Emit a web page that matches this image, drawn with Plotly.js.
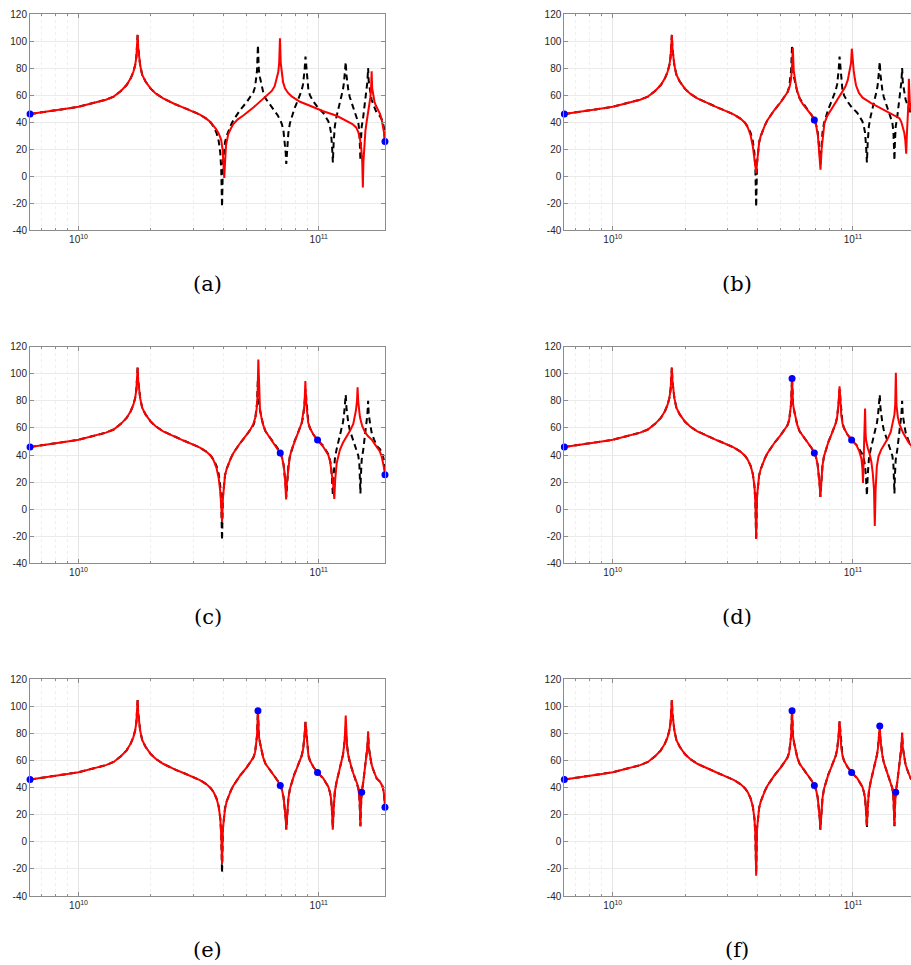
<!DOCTYPE html>
<html><head><meta charset="utf-8">
<script src="https://cdn.plot.ly/plotly-3.0.1.min.js"></script>
<style>html,body{margin:0;padding:0;overflow:hidden;background:#fff}#chart{width:920px;height:965px}</style>
</head><body><div id="chart"></div>
<script>
// frequency values are in units of 1e9 (rad/s), magnitudes in dB
const UNIT = 1e9;

// low-frequency part shared by every curve
const lowSeg = [[6.283,45.9],[7,47],[8,48.6],[9,50],[10,51.3],[11,53],[12,54.6],[13,56.5],[14,58.8],[15,63],[15.85,67.4],[16.5,72.5],[16.9,77],[17.2,82],[17.4,88],[17.53,95],[17.62,104.5],[17.71,95],[17.85,88],[18.05,82],[18.4,75],[19,70],[20,64.5],[21,61],[22.5,57.5],[25,53.5],[27.5,50.5],[30,47.7],[32,45.5],[34,42.5]];

// reference (true) response, black dashed
const trueTail = [[35.5,39.5],[36.5,36.5],[37.5,32],[38.3,26],[38.9,17],[39.25,5],[39.55,-23],[39.9,10],[40.3,19],[40.7,25],[41.3,29.5],[42,33],[43,37.5],[44.06,41.3],[45.5,45],[47,48.7],[50.1,54.8],[52,58.5],[53.4,62],[54.3,66],[54.8,71],[55.3,78],[55.8,97],[56.3,78],[56.9,73],[57.7,67],[58.7,62],[60,57.5],[61.6,54.8],[63,52],[64.7,49.9],[66,47.5],[67.4,45],[69.1,41.4],[70.3,38],[71.3,33],[72.2,25],[72.8,17],[73.2,9],[73.8,22],[74.7,32],[75.8,39],[77.1,44],[79,49.5],[80.9,54],[82.8,58.5],[84.8,63.3],[86,68],[86.7,73],[87.3,79],[88,88.5],[88.7,79],[89.5,69],[90.5,63.5],[91.9,59.7],[94.8,55.3],[98.8,51],[101.5,49],[104.4,46.7],[107,43.5],[109.5,40.6],[111.2,36.5],[112.4,32],[113.5,22],[114.4,10],[115.3,25],[116.6,37],[118.5,44],[120.4,49],[122.5,54],[124.4,59],[126,64],[127.2,69],[128.3,75],[129.4,84.5],[130.3,75],[131.2,68],[132.6,64],[134.5,58.5],[137,54],[141.3,47],[144,43.5],[146,39.5],[147.5,33],[148.4,24],[149,11.5],[149.6,24],[150.8,36.5],[153.1,44],[155,52],[156.7,59],[158.3,65],[159.3,70],[160.4,80],[161.3,70],[163.3,63.8],[165.9,56.5],[169.7,51.6],[174.1,46.7],[179.7,44.3],[184.4,40.6],[186.5,36],[187.7,31],[188.5,25.5]];

// reduced-model responses, red
const redTailA = [[35.5,39.8],[36.3,37.5],[37.3,35],[38.3,31.5],[39.2,27],[39.8,19],[40.15,8],[40.4,-1.5],[40.65,8],[41.1,23],[41.6,27.5],[42,31],[43,35],[44.06,38.5],[46,42],[48.5,44.8],[53.4,50.7],[58.7,57],[63.7,63],[65.5,66.5],[66.8,71.5],[67.8,77],[68.4,84],[68.9,102],[69.4,84],[70,76],[71,69.5],[72.3,65],[74.5,61.5],[77.1,59],[83.5,55],[91.9,52],[104.4,48],[118.7,44.6],[130.6,41],[138,38.5],[143,36],[146,32.5],[148.5,27],[150.3,20],[151.6,10],[152.5,-8.5],[153.3,10],[154.5,25],[156.2,33],[158.1,40],[160.5,46.5],[162.2,52],[163.8,58],[165,65],[165.9,77.5],[166.7,65],[168.5,59],[170.5,55],[172.9,52],[176,49],[179.7,46],[182.5,42],[184.4,38.5],[186.5,33],[188.5,25.5]];

const redTailB = [[35.5,39.5],[36.5,36],[37.5,30],[38.3,22],[38.9,13],[39.3,6],[39.6,2],[39.9,10],[40.3,19],[40.7,25],[41.3,29.5],[42,33],[43,37.5],[44.06,41.3],[45.5,45],[47,48.7],[50.1,54.8],[52,58.5],[53.4,62],[54.5,66],[55.2,71],[55.7,78],[56.2,95],[56.7,78],[57.3,72],[58.1,66],[59.1,61],[60.5,56],[62,53],[64,50],[66,47],[67.5,44.8],[69.1,41.4],[70.4,37],[71.5,30],[72.4,20],[73.3,4.7],[74.1,20],[75,31],[76.1,39],[78.2,44.5],[81.2,49],[85.1,54.5],[89.2,60],[93,66],[95.2,71],[97.2,78],[98.3,84],[99,94.3],[99.7,84],[100.8,78],[101.9,72],[103.1,67],[106,61.5],[109.8,58],[119.1,54],[131.1,50],[144.3,46.4],[152.2,44],[156.2,42.8],[159.2,40],[161.4,36.6],[163.7,32],[165.2,27],[166.8,16.5],[167.8,30],[169.4,41.5],[170.4,55],[171.1,72],[171.9,60],[172.8,53.5],[173.8,51],[176.7,46.4],[181.5,43],[185.5,37],[188.5,25.5]];

const redTailC = [[35.5,39.5],[36.5,36],[37.5,30.5],[38.3,23],[38.9,13],[39.25,2],[39.55,-9.5],[39.9,8],[40.3,19],[40.7,25],[41.3,29.5],[42,33],[43,37.5],[44.06,41.3],[45.5,45],[47,48.7],[50.1,55],[52,59],[53.4,63],[54.5,68],[55.1,74],[55.6,84],[56,110.5],[56.4,84],[56.9,74],[57.7,67.5],[58.7,62],[60,57.5],[61.6,54.5],[63,52],[64.7,49.5],[66,47.2],[67.4,44.8],[69.1,41.4],[70.3,38],[71.3,33],[72.2,25],[72.7,17],[73.1,7.1],[73.6,19],[74.5,30],[75.6,38],[77.1,44],[79,49.5],[80.9,54],[82.8,58.5],[84.8,63.5],[86,68.5],[86.7,74],[87.3,80],[87.9,94.6],[88.5,80],[89.3,70],[90.3,64],[91.9,59.7],[94.8,55.3],[98.8,51],[101.5,48.8],[104.4,46],[107,43],[109.5,40],[111.5,35],[113.1,28],[114.8,18],[116,7.5],[117,22],[118.7,34],[120.5,40],[122.4,43.8],[126,49],[130.6,53.5],[135,58],[139.1,63],[141.3,68],[142.7,73],[144.2,80],[145,90],[145.8,80],[147,72],[148.3,68],[151.5,61.5],[155.6,57],[160,54],[166.7,51],[174.1,46],[179,43],[182.6,39],[185.5,34],[187.5,29],[188.5,25.4]];

const redTailD = [[35.5,39.5],[36.5,36.5],[37.5,32],[38.3,26],[38.9,17],[39.25,5],[39.55,-22],[39.9,10],[40.3,19],[40.7,25],[41.3,29.5],[42,33],[43,37.5],[44.06,41.3],[45.5,45],[47,48.7],[50.1,54.8],[52,58.5],[53.4,62],[54.3,66],[54.8,71],[55.3,78],[55.8,96.5],[56.3,78],[56.9,73],[57.7,67],[58.7,62],[60,57.5],[61.6,54.8],[63,52],[64.7,49.9],[66,47.5],[67.4,45],[69.1,41.4],[70.3,38],[71.3,33],[72.2,25],[72.8,17],[73.2,9],[73.8,22],[74.7,32],[75.8,39],[77.1,44],[79,49.5],[80.9,54],[82.8,58.5],[84.8,63.3],[86,68],[86.7,73],[87.3,80],[88,90.7],[88.7,80],[89.5,69],[90.5,63.5],[91.9,59.7],[94.8,55.3],[98.8,51],[101.5,49],[103.5,47.4],[106.5,42.5],[108.6,37],[109.6,30],[110.2,19.3],[110.9,35],[111.8,55],[112.4,74.3],[113,55],[113.5,51],[115.4,45],[117.2,41.3],[119.4,35],[121,26.7],[122.4,15],[123.4,-12.5],[124.4,15],[125.8,31.5],[127.9,39],[131.1,43.8],[135.3,48],[139.9,52.3],[143.8,57],[146.8,63.3],[149,70],[150.1,77],[151,100.7],[151.9,77],[153.9,68],[156.2,63],[158.9,59.7],[162.2,56],[166.8,52.3],[171.1,49],[176.7,46.2],[181.5,43],[185.8,36],[188.5,25.5]];

const redTailE = [[35.5,39.5],[36.5,36.5],[37.5,32],[38.3,26],[38.9,17],[39.25,5],[39.55,-16.5],[39.9,10],[40.3,19],[40.7,24],[41.3,29.5],[42,33],[43,37.5],[44.06,41.3],[45.5,45],[47,48.7],[50.1,54.8],[52,58.5],[53.4,62],[54.3,66],[54.8,71],[55.3,78],[55.8,96.5],[56.3,78],[56.9,73],[57.7,67],[58.7,62],[60,57.5],[61.6,54.8],[63,52],[64.7,49.9],[66,47.5],[67.4,45],[69.1,41.4],[70.3,38],[71.3,33],[72.2,25],[72.8,17],[73.2,9],[73.8,22],[74.7,32],[75.8,39],[77.1,44],[79,49.5],[80.9,54],[82.8,58.5],[84.8,63.3],[86,68],[86.7,73],[87.3,79],[88,88.3],[88.7,79],[89.5,69],[90.5,63.5],[91.9,59.7],[94.8,55.3],[98.8,51],[101.5,49],[104.4,46.7],[107,43.5],[109.5,40.6],[111.2,36.5],[112.4,32],[113.5,22],[114.3,8.8],[115.3,25],[116.6,37],[118.5,44],[120.4,49],[122.5,54],[124.4,59],[126,64],[127.2,70],[128.3,77],[129.4,93],[130.3,77],[131.2,69],[132.6,64],[134.5,58.5],[137,54],[141.3,47],[144,43.5],[146,39.5],[147.5,33],[148.4,24],[149,11.5],[149.6,24],[150.8,36.5],[153.1,44],[155,52],[156.7,59],[158.3,65],[159.3,70],[160.4,81.4],[161.3,70],[163.3,63.8],[165.9,56.5],[169.7,51.6],[174.1,46.7],[179.7,44.3],[184.4,40.6],[186.5,36],[187.7,31],[188.5,25.5]];

const redTailF = [[35.5,39.5],[36.5,36.5],[37.5,32],[38.3,26],[38.9,17],[39.25,5],[39.55,-25],[39.9,10],[40.3,19],[40.7,25],[41.3,29.5],[42,33],[43,37.5],[44.06,41.3],[45.5,45],[47,48.7],[50.1,54.8],[52,58.5],[53.4,62],[54.3,66],[54.8,71],[55.3,78],[55.8,96.5],[56.3,78],[56.9,73],[57.7,67],[58.7,62],[60,57.5],[61.6,54.8],[63,52],[64.7,49.9],[66,47.5],[67.4,45],[69.1,41.4],[70.3,38],[71.3,33],[72.2,25],[72.8,17],[73.2,8.8],[73.8,22],[74.7,32],[75.8,39],[77.1,44],[79,49.5],[80.9,54],[82.8,58.5],[84.8,63.3],[86,68],[86.7,73],[87.3,79],[88,89],[88.7,79],[89.5,69],[90.5,63.5],[91.9,59.7],[94.8,55.3],[98.8,51],[101.5,49],[104.4,46.7],[107,43.5],[109.5,40.6],[111.2,36.5],[112.4,32],[113.5,22],[114.4,11.8],[115.3,25],[116.6,37],[118.5,44],[120.4,49],[122.5,54],[124.4,59],[126,64],[127.2,69],[128.3,75],[129.4,85.5],[130.3,75],[131.2,68],[132.6,64],[134.5,58.5],[137,54],[141.3,47],[144,43.5],[146,39.5],[147.5,33],[148.4,24],[149,11.8],[149.6,24],[150.8,36.5],[153.1,44],[155,52],[156.7,59],[158.3,65],[159.3,70],[160.4,80.6],[161.3,70],[163.3,63.8],[165.9,56.5],[169.7,51.6],[174.1,46.7],[179.7,44.3],[184.4,40.6],[186.5,36],[187.7,31],[188.5,25.5]];

// interpolation points, blue
const dotsA = [[6.283,45.9],[188.5,25.5]];
const dotsB = [[6.283,45.9],[69.1,41.4],[188.5,25.5]];
const dotsC = [[6.283,45.9],[69.1,41.4],[98.8,51],[188.5,25.5]];
const dotsD = [[6.283,45.9],[55.8,96.5],[69.1,41.4],[98.8,51],[188.5,25.5]];
const dotsE = [[6.283,45.9],[55.8,96.5],[69.1,41.4],[98.8,51],[150.8,36.5],[188.5,25.5]];
const dotsF = [[6.283,45.9],[55.8,96.5],[69.1,41.4],[98.8,51],[129.4,85.3],[150.8,36.5],[188.5,25.5]];

const panelLabels = ['(a)','(b)','(c)','(d)','(e)','(f)'];
const xTickVals = [1e10, 1e11];
const xTickText = ['10<sup>10</sup>','10<sup>11</sup>'];
const xMinorVals = [7e9,8e9,9e9,2e10,3e10,4e10,5e10,6e10,7e10,8e10,9e10];
const yTickVals = [-40,-20,0,20,40,60,80,100,120];
const yTickText = ['-40','-20','0','20','40','60','80','100','120'];
const xRange = [6.28e9, 1.8855e11];
const yRange = [-40, 120];

const redTails = [redTailA, redTailB, redTailC, redTailD, redTailE, redTailF];
const dotSets = [dotsA, dotsB, dotsC, dotsD, dotsE, dotsF];

// page geometry (px)
const W = 920, H = 965;
const colX = [[30, 385], [564.3, 919]];
const rowY = [[14, 230], [346.7, 563.3], [679, 896]];
const capY = [284, 617, 950];
const capX = [207.5, 737];

const trueCurve = lowSeg.concat(trueTail);
const traces = [];
const layout = {
  width: W, height: H, margin: {l:0, r:0, t:0, b:0},
  paper_bgcolor: '#fff', plot_bgcolor: '#fff', showlegend: false,
  font: {family: 'Liberation Sans, Arial, sans-serif', size: 10, color: '#262626'},
  annotations: []
};

for (let i = 0; i < 6; i++) {
  const r = Math.floor(i / 2), c = i % 2;
  const s = i === 0 ? '' : String(i + 1);
  const xa = 'x' + s, ya = 'y' + s;
  const red = lowSeg.concat(redTails[i]);
  traces.push({x: trueCurve.map(p => p[0]*UNIT), y: trueCurve.map(p => p[1]), xaxis: xa, yaxis: ya,
    mode: 'lines', line: {color: '#000', width: 2, dash: '6px,4px'}, hoverinfo: 'skip'});
  traces.push({x: red.map(p => p[0]*UNIT), y: red.map(p => p[1]), xaxis: xa, yaxis: ya,
    mode: 'lines', line: {color: '#ff0000', width: 2}, hoverinfo: 'skip'});
  traces.push({x: dotSets[i].map(p => p[0]*UNIT), y: dotSets[i].map(p => p[1]), xaxis: xa, yaxis: ya,
    mode: 'markers', marker: {color: '#0000ff', size: 7}, cliponaxis: false, hoverinfo: 'skip'});

  layout['xaxis' + s] = {
    type: 'log', range: xRange.map(Math.log10), anchor: ya,
    domain: [colX[c][0]/W, colX[c][1]/W],
    tickmode: 'array', tickvals: xTickVals, ticktext: xTickText,
    ticks: 'inside', ticklen: 4, tickcolor: '#8c8c8c',
    showline: true, linecolor: '#8c8c8c', linewidth: 1, mirror: 'ticks',
    showgrid: true, gridcolor: '#e4e4e4', gridwidth: 1, zeroline: false,
    tickfont: {size: 10, color: '#262626'},
    minor: {tickmode: 'array', tickvals: xMinorVals, ticks: 'inside', ticklen: 2, tickcolor: '#8c8c8c',
      showgrid: true, gridcolor: '#efefef', griddash: 'dot', gridwidth: 1}
  };
  layout['yaxis' + s] = {
    range: yRange, anchor: xa,
    domain: [1 - rowY[r][1]/H, 1 - rowY[r][0]/H],
    tickmode: 'array', tickvals: yTickVals, ticktext: yTickText,
    ticks: 'inside', ticklen: 4, tickcolor: '#8c8c8c',
    showline: true, linecolor: '#8c8c8c', linewidth: 1, mirror: 'ticks',
    showgrid: true, gridcolor: '#ebebeb', gridwidth: 1, zeroline: false,
    tickfont: {size: 10, color: '#262626'}
  };
  layout.annotations.push({text: panelLabels[i], xref: 'paper', yref: 'paper',
    x: capX[c]/W, y: 1 - capY[r]/H, xanchor: 'center', yanchor: 'middle', showarrow: false,
    font: {family: 'DejaVu Serif, serif', size: 21, color: '#000'}});
}

Plotly.newPlot('chart', traces, layout, {staticPlot: true, displayModeBar: false});
</script></body></html>
